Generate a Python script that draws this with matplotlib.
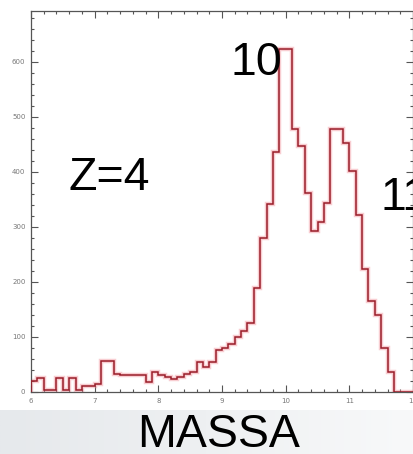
import numpy as np
import matplotlib
matplotlib.use("Agg")
import matplotlib.pyplot as plt
from matplotlib.ticker import MultipleLocator
from matplotlib.colors import LinearSegmentedColormap

# Histogram of MASSA, bins of width 0.1 starting at 6.0
bin_start = 6.0
bin_width = 0.1
counts = [20, 25, 3, 3, 25, 3, 25, 3, 10, 10,
          15, 56, 56, 33, 31, 30, 30, 30, 19, 37,
          30, 27, 23, 27, 32, 36, 55, 46, 55, 76,
          80, 88, 100, 110, 125, 188, 280, 342, 435, 623,
          623, 477, 447, 362, 292, 308, 344, 477, 477, 453,
          401, 322, 224, 166, 140, 80, 37, 0, 0, 0]
x_ticks = [6, 7, 8, 9, 10, 11, 12]
y_ticks = [0, 100, 200, 300, 400, 500, 600]
panel_label = "Z=4"
peak_labels = ["10", "11"]
x_label = "MASSA"

W, H = 413, 454
fig = plt.figure(figsize=(W / 100, H / 100), dpi=100)
fig.patch.set_facecolor("white")

# light grey band behind the axis title
band = fig.add_axes([0, 0, 1, 44 / H], zorder=0)
grad = np.linspace(0, 1, 256)[None, :]
cmap = LinearSegmentedColormap.from_list("band", ["#e6e9ec", "#eef0f2", "#f8f9fa"])
band.imshow(grad, aspect="auto", cmap=cmap, extent=[0, 1, 0, 1])
band.set_axis_off()

ax = fig.add_axes([31 / W, 1 - 392 / H, (413 - 31) / W, (392 - 11) / H], zorder=1)
ax.patch.set_alpha(0)

edges = bin_start + bin_width * np.arange(len(counts) + 1)
vals = np.asarray(counts, dtype=float)
# outline of the histogram, starting and ending on the baseline
xs = np.repeat(edges, 2)
ys = np.concatenate([[0], np.repeat(vals, 2), [0]])
ax.plot(xs, ys, color="#f0909a", lw=3.2, alpha=0.45, solid_joinstyle="miter", zorder=2)
ax.plot(xs, ys, color="#9a1c28", lw=1.1, solid_joinstyle="miter", zorder=3)

ax.set_xlim(6, 12)
ax.set_ylim(0, 692)
ax.set_xticks(x_ticks)
ax.set_yticks(y_ticks)
ax.xaxis.set_minor_locator(MultipleLocator(0.2))
ax.yaxis.set_minor_locator(MultipleLocator(20))
ax.tick_params(which="both", direction="in", top=True, right=True,
               color="#555555", width=0.8)
ax.tick_params(which="major", length=5, labelsize=5, labelcolor="#777777", pad=4)
ax.tick_params(which="minor", length=2.5)
for s in ax.spines.values():
    s.set_color("#555555")
    s.set_linewidth(0.9)

font = "Liberation Sans"
fig.text(68 / W, 1 - 190 / H, panel_label, fontsize=33.5, family=font, color="black")
fig.text(231 / W, 1 - 75 / H, peak_labels[0], fontsize=33.5, family=font, color="black")
fig.text(380 / W, 1 - 210 / H, peak_labels[1], fontsize=33.5, family=font, color="black")
fig.text(137 / W, 1 - 447 / H, x_label, fontsize=33.5, family=font, color="black")

fig.savefig("out.png", dpi=100)
